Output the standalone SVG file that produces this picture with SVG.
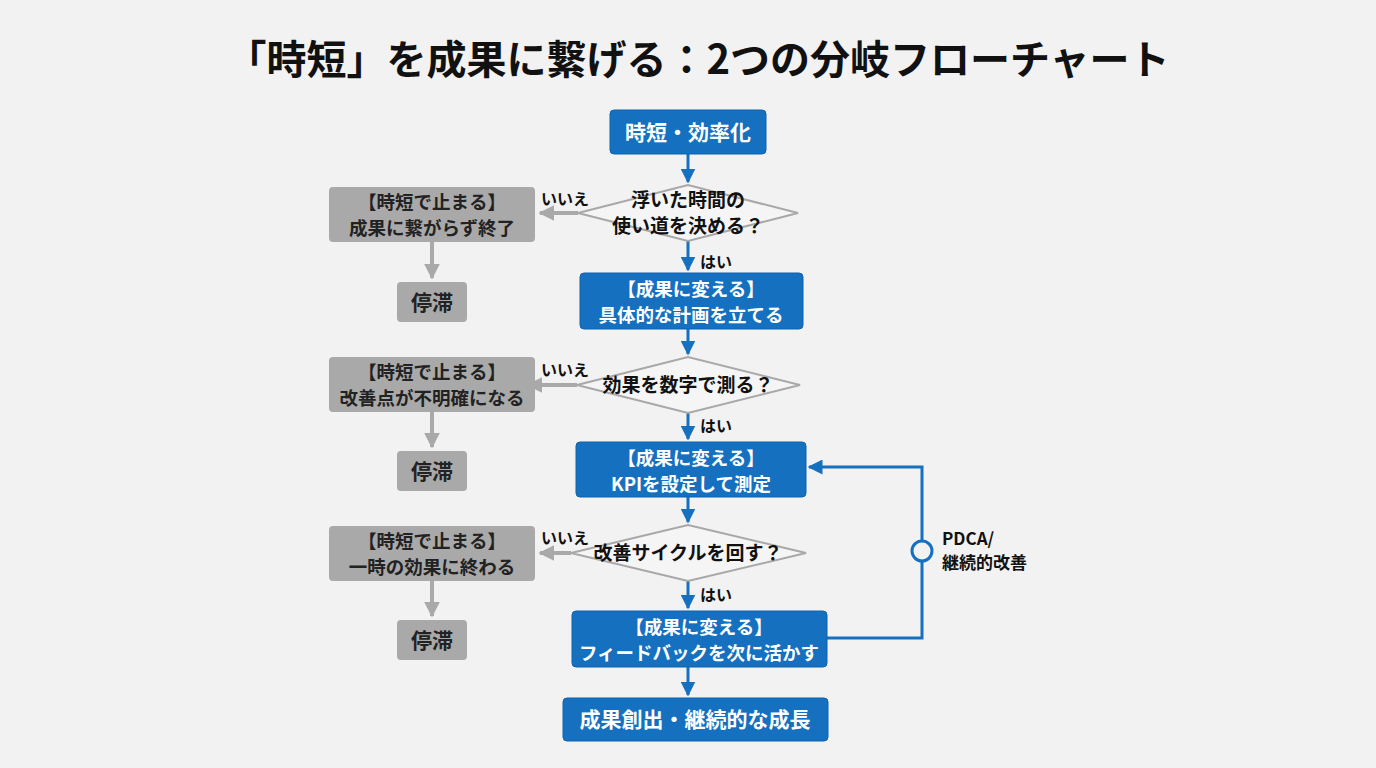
<svg xmlns="http://www.w3.org/2000/svg" width="1376" height="768" viewBox="0 0 1376 768">
<style>
text{font-family:"Noto Sans CJK JP","Noto Sans",sans-serif;font-weight:bold;text-anchor:middle}
.b{fill:#1570c0;stroke:#0f62ad;stroke-width:1}
.g{fill:#a9a9a9}
.d{fill:#f5f5f5;stroke:#a8a8a8;stroke-width:2}
.wt{fill:#fff;font-size:18.5px}
.wl{fill:#fff;font-size:21px}
.kt{fill:#111;font-size:19px}
.gt{fill:#222;font-size:18.5px}
.lb{fill:#111;font-size:16px;text-anchor:start}
.bl{stroke:#1570c0;stroke-width:3;fill:none}
.gl{stroke:#a9a9a9;stroke-width:4;fill:none}
</style>
<defs>
<marker id="ab" viewBox="0 0 10 10" refX="9" refY="5" markerWidth="5" markerHeight="5" orient="auto" markerUnits="strokeWidth"><path d="M0,0L10,5L0,10z" fill="#1570c0"/></marker>
<marker id="ag" viewBox="0 0 10 10" refX="9" refY="5" markerWidth="4" markerHeight="4" orient="auto" markerUnits="strokeWidth"><path d="M0,0L10,5L0,10z" fill="#a9a9a9"/></marker>
</defs>
<rect width="1376" height="768" fill="#f2f2f2"/>
<text x="698" y="74" style="font-size:40px;fill:#111">「時短」を成果に繋げる：2つの分岐フローチャート</text>
<g id="connectors">
<path class="bl" d="M688,154V182" marker-end="url(#ab)"/>
<path class="bl" d="M688,241V270" marker-end="url(#ab)"/>
<path class="bl" d="M688,329V354" marker-end="url(#ab)"/>
<path class="bl" d="M688,413V439" marker-end="url(#ab)"/>
<path class="bl" d="M688,497V522" marker-end="url(#ab)"/>
<path class="bl" d="M688,581V608" marker-end="url(#ab)"/>
<path class="bl" d="M688,667V695" marker-end="url(#ab)"/>
<path class="bl" d="M827,638H922V467H809" marker-end="url(#ab)"/>
<circle cx="922" cy="551" r="10" fill="#f2f2f2" stroke="#1570c0" stroke-width="3"/>
<path class="gl" d="M578,213H540" marker-end="url(#ag)"/>
<path class="gl" d="M577,385H528" marker-end="url(#ag)"/>
<path class="gl" d="M571,553H540" marker-end="url(#ag)"/>
<path class="gl" d="M432,242V278" marker-end="url(#ag)"/>
<path class="gl" d="M432,412V447" marker-end="url(#ag)"/>
<path class="gl" d="M432,581V616" marker-end="url(#ag)"/>
<text class="lb" x="700" y="268">はい</text>
<text class="lb" x="700" y="432">はい</text>
<text class="lb" x="700" y="601">はい</text>
<text class="lb" x="541" y="205">いいえ</text>
<text class="lb" x="541" y="376">いいえ</text>
<text class="lb" x="541" y="544">いいえ</text>
<text class="lb" x="942" y="545" style="font-size:17px">PDCA/</text>
<text class="lb" x="942" y="569" style="font-size:17px">継続的改善</text>
</g>
<g id="n1"><rect class="b" x="610" y="110" width="156" height="44" rx="4"/><text class="wl" x="688" y="140">時短・効率化</text></g>
<g id="d1"><polygon class="d" points="578,213 688,185 798,213 688,241"/><text class="kt" x="688" y="207">浮いた時間の</text><text class="kt" x="688" y="233">使い道を決める？</text></g>
<g id="n2"><rect class="b" x="580" y="273" width="223" height="56" rx="4"/><text class="wt" x="691" y="296">【成果に変える】</text><text class="wt" x="691" y="322">具体的な計画を立てる</text></g>
<g id="d2"><polygon class="d" points="577,385 688,357 800,385 688,413"/><text class="kt" x="688" y="392">効果を数字で測る？</text></g>
<g id="n3"><rect class="b" x="576" y="442" width="230" height="55" rx="4"/><text class="wt" x="691" y="465">【成果に変える】</text><text class="wt" x="691" y="491">KPIを設定して測定</text></g>
<g id="d3"><polygon class="d" points="571,553 688,525 806,553 688,581"/><text class="kt" x="688" y="560">改善サイクルを回す？</text></g>
<g id="n4"><rect class="b" x="572" y="611" width="255" height="56" rx="4"/><text class="wt" x="699" y="634">【成果に変える】</text><text class="wt" x="699" y="660">フィードバックを次に活かす</text></g>
<g id="n5"><rect class="b" x="563" y="698" width="265" height="43" rx="4"/><text class="wl" x="695" y="727">成果創出・継続的な成長</text></g>
<g id="s1"><rect class="g" x="329" y="187" width="206" height="55" rx="4"/><text class="gt" x="432" y="209">【時短で止まる】</text><text class="gt" x="432" y="235">成果に繋がらず終了</text></g>
<g id="s2"><rect class="g" x="329" y="357" width="206" height="55" rx="4"/><text class="gt" x="432" y="379">【時短で止まる】</text><text class="gt" x="432" y="405">改善点が不明確になる</text></g>
<g id="s3"><rect class="g" x="329" y="526" width="206" height="55" rx="4"/><text class="gt" x="432" y="548">【時短で止まる】</text><text class="gt" x="432" y="574">一時の効果に終わる</text></g>
<g id="t1"><rect class="g" x="397" y="282" width="70" height="40" rx="4"/><text class="gt" x="432" y="310" style="font-size:21px">停滞</text></g>
<g id="t2"><rect class="g" x="397" y="451" width="70" height="40" rx="4"/><text class="gt" x="432" y="479" style="font-size:21px">停滞</text></g>
<g id="t3"><rect class="g" x="397" y="620" width="70" height="40" rx="4"/><text class="gt" x="432" y="648" style="font-size:21px">停滞</text></g>
</svg>
